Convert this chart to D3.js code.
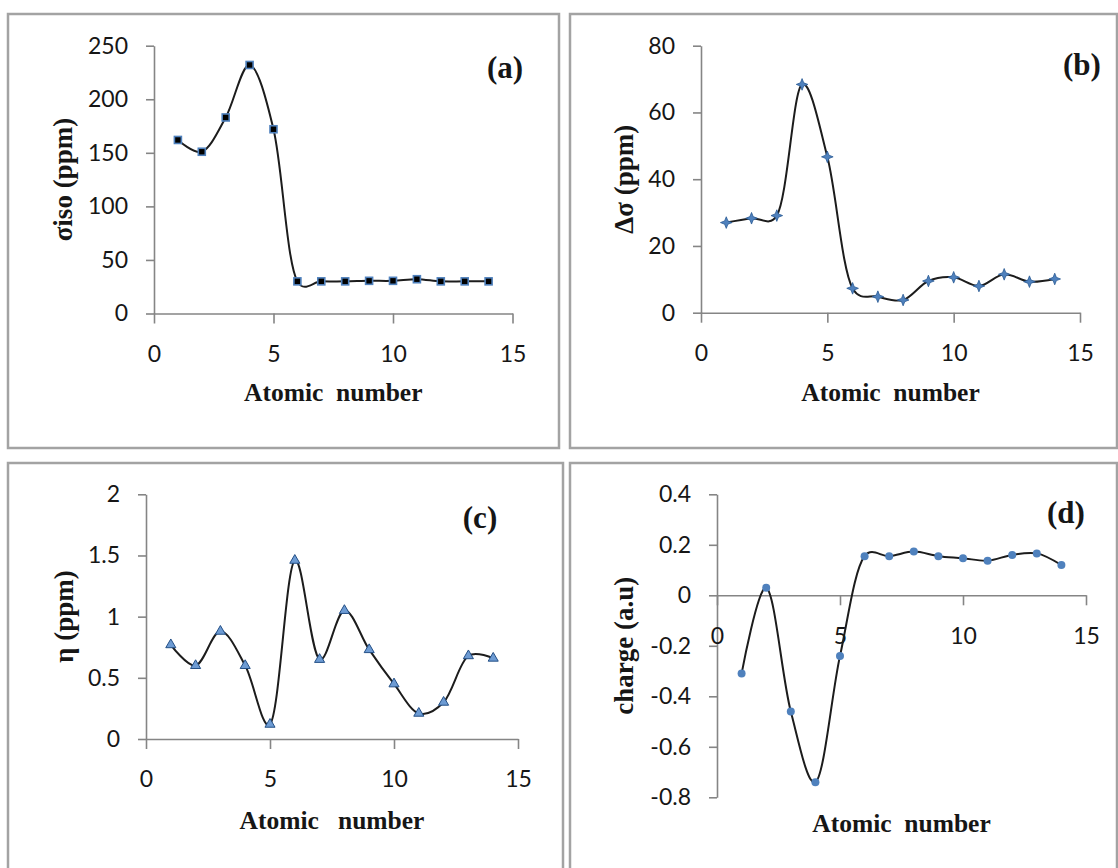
<!DOCTYPE html>
<html lang="en">
<head>
<meta charset="UTF-8">
<title>NMR parameters vs atomic number</title>
<script src="https://cdn.jsdelivr.net/npm/d3@7"></script>
<style>
  body { margin: 0; background: #fff; }
  svg text { fill: #161616; }
</style>
</head>
<body>
<script>
// values
const atomicNumber = [1, 2, 3, 4, 5, 6, 7, 8, 9, 10, 11, 12, 13, 14]
const sigmaIso = [162, 151, 183, 232, 172, 30, 30, 30, 30.5, 30.5, 32, 30, 30, 30]
const deltaSigma = [27.0, 28.3, 29.1, 68.4, 46.7, 7.3, 4.8, 3.8, 9.5, 10.6, 8.0, 11.5, 9.3, 10.1]
const eta = [0.77, 0.60, 0.88, 0.60, 0.12, 1.46, 0.65, 1.05, 0.73, 0.45, 0.21, 0.30, 0.68, 0.66]
const charge = [-0.31, 0.03, -0.46, -0.74, -0.24, 0.155, 0.155, 0.173, 0.155, 0.147, 0.137, 0.16, 0.166, 0.12]

const xTicks = [0, 5, 10, 15]
const ticksA = [0, 50, 100, 150, 200, 250]
const ticksB = [0, 20, 40, 60, 80]
const ticksC = [0, 0.5, 1, 1.5, 2]
const ticksD = [-0.8, -0.6, -0.4, -0.2, 0, 0.2, 0.4]

const W = 1118, H = 868
const blue = '#4F81BD'

const svg = d3.select('body').append('svg')
    .attr('width', W).attr('height', H)

// four pointed star marker like the excel one
const star4 = {
    draw(ctx, size) {
        const r = Math.sqrt(size) * 0.75, q = r * 0.28
        ctx.moveTo(0, -r)
        ctx.lineTo(q, -q); ctx.lineTo(r, 0); ctx.lineTo(q, q)
        ctx.lineTo(0, r); ctx.lineTo(-q, q); ctx.lineTo(-r, 0); ctx.lineTo(-q, -q)
        ctx.closePath()
    }
}

const panels = [
    {values: sigmaIso, box: [8, 14, 559, 448], xr: [154, 512.5], yr: [313.5, 45.7], yd: [0, 250], yt: ticksA,
     tag: '(a)', tagPos: [505, 78], ytitle: 'σiso (ppm)', ytx: 63, xtitle: 'Atomic  number', xty: 401,
     marker: 'square'},
    {values: deltaSigma, box: [570, 14, 1117, 448], xr: [701, 1080], yr: [312.7, 45.7], yd: [0, 80], yt: ticksB,
     tag: '(b)', tagPos: [1082, 75], ytitle: 'Δσ (ppm)', ytx: 624, xtitle: 'Atomic  number', xty: 401,
     marker: 'star'},
    {values: eta, box: [8, 463, 563, 890], xr: [146, 518], yr: [739, 494.3], yd: [0, 2], yt: ticksC,
     tag: '(c)', tagPos: [480, 528], ytitle: 'η (ppm)', ytx: 64, xtitle: 'Atomic   number', xty: 829,
     marker: 'triangle'},
    {values: charge, box: [570, 463, 1117, 890], xr: [717, 1086], yr: [797.3, 494.3], yd: [-0.8, 0.4], yt: ticksD,
     tag: '(d)', tagPos: [1066, 523], ytitle: 'charge (a.u)', ytx: 624, xtitle: 'Atomic  number', xty: 832,
     marker: 'circle'}
]

panels.forEach(p => {
    const g = svg.append('g')
    g.append('rect')
        .attr('x', p.box[0]).attr('y', p.box[1])
        .attr('width', p.box[2] - p.box[0]).attr('height', p.box[3] - p.box[1])
        .attr('fill', 'none').attr('stroke', '#a3a3a3').attr('stroke-width', 2.5)

    const x = d3.scaleLinear().domain([0, 15]).range(p.xr)
    const y = d3.scaleLinear().domain(p.yd).range(p.yr)
    const x0 = y(0)

    const yAxis = g.append('g')
        .attr('transform', `translate(${x(0)},0)`)
        .call(d3.axisLeft(y).tickValues(p.yt).tickSize(8).tickSizeOuter(0).tickPadding(18)
            .tickFormat(d => String(d)))
    const xAxis = g.append('g')
        .attr('transform', `translate(0,${x0})`)
        .call(d3.axisBottom(x).tickValues(xTicks).tickSize(10).tickSizeOuter(0).tickPadding(22)
            .tickFormat(d => String(d)))
    ;[yAxis, xAxis].forEach(a => {
        a.selectAll('path, line').attr('stroke', '#858585').attr('stroke-width', 1.6)
        a.selectAll('text').attr('font-family', 'Lato, sans-serif').attr('font-size', 23)
            .attr('fill', '#161616')
    })

    // excel style smoothing, a little overshoot like the original
    const line = d3.line()
        .x((d, i) => x(atomicNumber[i]))
        .y(d => y(d))
        .curve(d3.curveCatmullRom.alpha(0.25))
    g.append('path').attr('d', line(p.values))
        .attr('fill', 'none').attr('stroke', '#1c1c1c').attr('stroke-width', 2)

    const pts = g.selectAll('.pt').data(p.values).enter().append('g')
        .attr('transform', (d, i) => `translate(${x(atomicNumber[i])},${y(d)})`)
    if (p.marker === 'square') {
        pts.append('rect').attr('x', -3.5).attr('y', -3.5).attr('width', 7).attr('height', 7)
            .attr('fill', '#000').attr('stroke', blue).attr('stroke-width', 1.6)
    } else if (p.marker === 'star') {
        pts.append('path').attr('d', d3.symbol(star4, 60))
            .attr('fill', blue).attr('stroke', '#2a5a94').attr('stroke-width', 0.8)
    } else if (p.marker === 'triangle') {
        pts.append('path').attr('d', d3.symbol(d3.symbolTriangle, 44))
            .attr('fill', '#6d9bd3').attr('stroke', '#234f86').attr('stroke-width', 1)
    } else {
        pts.append('circle').attr('r', 4).attr('fill', blue)
    }

    g.append('text')
        .attr('x', p.tagPos[0]).attr('y', p.tagPos[1])
        .attr('text-anchor', 'middle')
        .attr('font-family', '"Liberation Serif", serif').attr('font-weight', 'bold').attr('font-size', 31)
        .text(p.tag)

    g.append('text')
        .attr('transform', `translate(${p.ytx},${(p.yr[0] + p.yr[1]) / 2}) rotate(-90)`)
        .attr('text-anchor', 'middle').attr('dy', '0.35em')
        .attr('font-family', '"Liberation Serif", serif').attr('font-weight', 'bold').attr('font-size', 27)
        .text(p.ytitle)

    g.append('text')
        .attr('x', (p.xr[0] + p.xr[1]) / 2).attr('y', p.xty)
        .attr('text-anchor', 'middle')
        .style('white-space', 'pre')
        .attr('font-family', '"Liberation Serif", serif').attr('font-weight', 'bold').attr('font-size', 25.5)
        .text(p.xtitle)
})
</script>
</body>
</html>
